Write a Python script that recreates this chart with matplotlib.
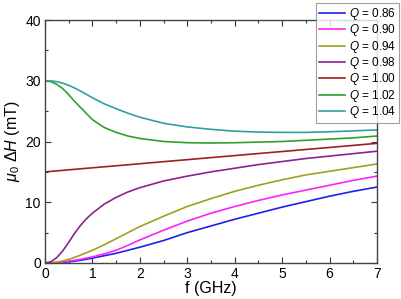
import matplotlib
matplotlib.use("Agg")
import matplotlib.pyplot as plt
from matplotlib.ticker import MultipleLocator

plt.rcParams['font.family'] = ['Liberation Sans', 'DejaVu Sans']
plt.rcParams['mathtext.fontset'] = 'custom'
plt.rcParams['mathtext.rm'] = 'Liberation Sans'
plt.rcParams['mathtext.it'] = 'Liberation Sans:italic'

f = [0, 0.125, 0.25, 0.375, 0.5, 0.625, 0.75, 0.875, 1, 1.25, 1.5, 1.75, 2,
     2.5, 3, 3.5, 4, 4.5, 5, 5.5, 6, 6.5, 7]

q086 = [0, 0.01, 0.05, 0.11, 0.2, 0.31, 0.45, 0.62, 0.8, 1.2, 1.6, 2.1, 2.6,
        3.7, 5.0, 6.1, 7.2, 8.2, 9.2, 10.1, 11.0, 11.8, 12.5]
q090 = [0, 0.02, 0.07, 0.17, 0.3, 0.45, 0.6, 0.8, 1.0, 1.5, 2.1, 2.9, 3.8,
        5.4, 6.9, 8.2, 9.3, 10.3, 11.2, 12.0, 12.8, 13.6, 14.3]
q094 = [0, 0.04, 0.15, 0.35, 0.6, 0.93, 1.3, 1.7, 2.1, 3.0, 4.0, 5.0, 6.0,
        7.7, 9.3, 10.6, 11.8, 12.8, 13.7, 14.5, 15.1, 15.7, 16.3]
q098 = [0, 0.2, 0.9, 2.0, 3.4, 4.9, 6.2, 7.3, 8.2, 9.7, 10.8, 11.7, 12.4,
        13.5, 14.3, 15.0, 15.6, 16.2, 16.7, 17.2, 17.6, 18.0, 18.4]
q100 = [15.0, 15.08, 15.17, 15.25, 15.34, 15.42, 15.5, 15.59, 15.67, 15.84, 16.0, 16.17, 16.34,
        16.68, 17.01, 17.35, 17.68, 18.02, 18.35, 18.69, 19.02, 19.36, 19.7]
q102 = [30.0, 29.85, 29.4, 28.7, 27.7, 26.6, 25.6, 24.6, 23.6, 22.3, 21.5, 20.9, 20.5,
        20.0, 19.8, 19.75, 19.8, 19.9, 20.0, 20.2, 20.4, 20.6, 20.9]
q104 = [30.0, 29.97, 29.85, 29.6, 29.25, 28.8, 28.3, 27.75, 27.2, 26.2, 25.4, 24.65, 24.0,
        23.0, 22.4, 22.0, 21.7, 21.55, 21.5, 21.5, 21.6, 21.75, 21.9]

series = [q086, q090, q094, q098, q100, q102, q104]
labels = ['0.86', '0.90', '0.94', '0.98', '1.00', '1.02', '1.04']
colors = ['#2020e8', '#ff20ff', '#a0a020', '#902090', '#a02020', '#30a030', '#30a0a0']

fig = plt.figure(figsize=(4.01, 2.99), dpi=100)
ax = fig.add_axes([45/401, 1-263/299, 332/401, 243/299])

for y, lab, c in zip(series, labels, colors):
    ax.plot(f, y, color=c, lw=1.2, label=r'$Q$ = ' + lab)

ax.set_xlim(0, 7)
ax.set_ylim(0, 40)
ax.xaxis.set_major_locator(MultipleLocator(1))
ax.xaxis.set_minor_locator(MultipleLocator(0.5))
ax.yaxis.set_major_locator(MultipleLocator(10))
ax.yaxis.set_minor_locator(MultipleLocator(5))
ax.tick_params(which='both', direction='in', top=True, right=True, labelsize=10,
               colors='#333333', labelcolor='black')
ax.tick_params(which='major', length=4, width=0.8, pad=3)
ax.tick_params(which='minor', length=2.5, width=0.8)
for s in ax.spines.values():
    s.set_color('#444444')
    s.set_linewidth(1.0)

ax.set_xlabel('f (GHz)', fontsize=11.5, labelpad=0)
ax.set_ylabel(r'$\mu_0$ $\mathit{\Delta H}$ (mT)', fontsize=11.5, labelpad=2)

leg = fig.legend(loc='upper right', bbox_to_anchor=(399/401, 1-3/299), borderaxespad=0,
                 fontsize=8.5, frameon=True, fancybox=False, handlelength=2.2,
                 labelspacing=0.03, borderpad=0.25, handletextpad=0.35)
leg.get_frame().set_edgecolor('#888888')
leg.get_frame().set_linewidth(0.8)

fig.savefig('out.png', dpi=100)
